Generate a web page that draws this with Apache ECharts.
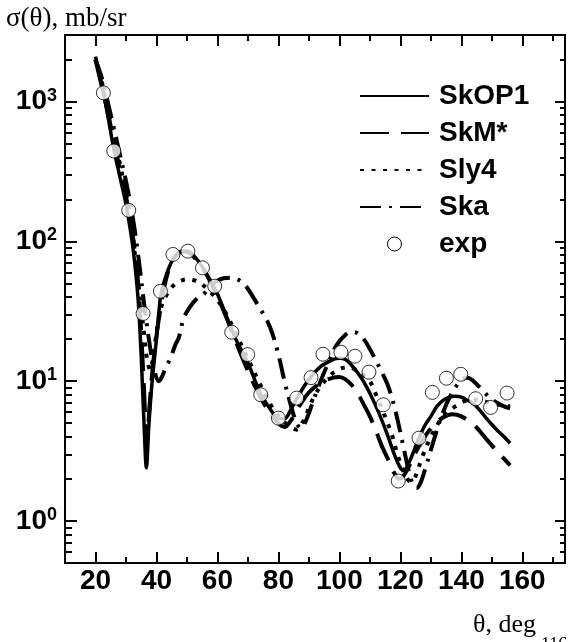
<!DOCTYPE html>
<html>
<head>
<meta charset="utf-8">
<script src="https://cdn.jsdelivr.net/npm/echarts@6/dist/echarts.min.js"></script>
<style>
html,body{margin:0;padding:0;background:#fff;}
#chart{width:569px;height:642px;}
</style>
</head>
<body>
<div id="chart"></div>
<script>
// ---- data ----
const skop1 = [[20,2100],[22,1350],[24,800],[26,460],[28,290],[30,185],[32,100],[33,66],[34,38],[35,15],[36,4.5],[36.7,2.4],[37.5,4.8],[38.5,9.5],[40,20],[41.3,40],[42,47],[44,64],[46,78],[48,84],[50,85],[52,80],[55,66],[58,51],[60,42],[63,29],[66,20],[70,13.5],[74,8.3],[78,6],[80,5.4],[82,5.4],[84,6.2],[86,7.5],[90,10.3],[94,12.8],[98,14.3],[100,14.6],[102,14.3],[104,13],[106,11.5],[108,9.9],[110,8.2],[112,6.6],[114,5.2],[116,4],[118,3],[120,2.4],[121,2.3],[122,2.4],[124,3],[126,3.9],[128,4.8],[130,5.6],[132,6.6],[134,7.3],[136,7.7],[138,7.8],[140,7.7],[142,7.3],[144,6.9],[146,6.2],[148,5.5],[150,4.9],[152,4.4],[154,4.0],[156,3.6]];
const skm = [[20,2000],[22,1300],[24,850],[26,520],[28,330],[30,210],[32,120],[34,50],[35,22],[36,8],[36.8,3.6],[37.8,7],[39,14],[41,30],[43,52],[45,71],[47,82],[49,85],[51,82],[53,74],[56,60],[59,45],[62,32],[65,22],[68,15],[72,9.5],[76,6.5],[80,5],[82,4.7],[84,5.2],[86,6.2],[90,8.3],[94,9.8],[98,10.6],[100,10.7],[102,10.3],[104,9.4],[106,8.2],[108,6.8],[110,5.6],[112,4.4],[114,3.4],[116,2.75],[118,2.2],[119.5,2.0],[121,2.1],[123,2.5],[126,3.4],[130,4.6],[134,5.5],[137,5.8],[140,5.6],[144,4.9],[148,3.9],[152,3.1],[156,2.5]];
const sly4 = [[20,2000],[22,1400],[24,900],[26,560],[28,360],[30,220],[32,120],[33,78],[34,50],[35,33],[36,21],[37,14],[38,12],[39,15.5],[40,22],[41,30],[42,36],[43.5,42],[45,47],[47,51],[50,53.5],[52,53],[54,51],[57,45],[60,38],[63,30],[66,22],[70,14.5],[74,9.5],[78,6.5],[82,5.1],[84,4.7],[86,4.5],[88,5.1],[90,6.4],[92,8],[96,10.5],[100,12.2],[103,12.6],[106,11.8],[108,11],[110,10],[112,8],[114,6.3],[116,4.9],[117,4.3],[118.5,3.3],[120,2.6],[122,2.05],[123.5,1.9],[125,2.1],[127,2.8],[130,4],[134,5.6],[138,6.6],[141,7.2],[144,7.4],[148,7.1],[152,6.8],[156,6.6]];
const ska = [[20,2000],[22,1500],[24,1000],[26,650],[28,420],[30,270],[32,160],[34,80],[36,35],[38,17],[39.5,11.5],[40.8,10],[42,11],[43,12.5],[44.6,14.6],[46.2,18.2],[47.3,20.4],[48.9,28],[51,34],[53.3,39],[55.5,42],[57.5,47],[59.8,52],[62,54.5],[65,55],[67,53],[69,49],[72,39],[74,33],[76,28],[78,22],[80,15.5],[82,10],[84,6.8],[86,5],[87.5,4.6],[89,5.2],[91,6.8],[93,9],[96,13],[99,18],[102,21.5],[104,22.5],[106,22],[108,20],[110,17],[112,14],[114,11.5],[116,9.2],[118,6.6],[120,4.3],[121,3.4],[122.5,2.4],[124,1.85],[125.3,1.72],[126.5,1.85],[128,2.3],[131,3.8],[134,6],[137,8.3],[140,10.2],[142,10.6],[144,10],[147,8.6],[150,7.4],[154,6.6],[156,6.4]];
const expX = [22.6,26,30.9,35.6,41.3,45.4,50.3,55.1,59.1,64.7,69.9,74.2,80,86,90.7,94.6,100.5,105.1,109.7,114.4,119.3,126.1,130.5,135.1,139.8,144.7,149.6,155];
const expY = [1157,444,167,30.5,44,80.7,85.2,64.7,47.8,22.4,15.5,8.0,5.44,7.57,10.6,15.6,16.1,15.1,11.6,6.78,1.93,3.91,8.31,10.5,11.2,7.49,6.49,8.22];
const xMajorTicks = [20,40,60,80,100,120,140,160];
const xMinorTicks = [30,50,70,90,110,130,150,170];
const yMajorTicks = [1,10,100,1000];
const yMinorTicks = [0.5,0.6,0.7,0.8,0.9,2,3,4,5,6,7,8,9,20,30,40,50,60,70,80,90,200,300,400,500,600,700,800,900,2000];
const seriesNames = ['SkOP1','SkM*','Sly4','Ska','exp'];
const yTitle = 'σ(θ), mb/sr';
const xTitle = 'θ, deg';
const pageNo = '116';

const chart = echarts.init(document.getElementById('chart'), null, {renderer:'canvas'});
const X_MIN = 10, X_MAX = 174, Y_MIN = 0.5, Y_MAX = 3000;
const SANS = 'Liberation Sans, Arial, sans-serif';
const SERIF = '"Liberation Serif", "Times New Roman", serif';
const axisLineStyle = {show:true, lineStyle:{color:'#000', width:2}};
function xAx(pos, ticks, len, labels){
  return {type:'value', position:pos, min:X_MIN, max:X_MAX,
    axisLine: axisLineStyle, splitLine:{show:false},
    axisTick:{show:true, inside:true, length:len, customValues:ticks, lineStyle:{color:'#000', width:2}},
    axisLabel: labels ? {show:true, customValues:xMajorTicks, margin:4, color:'#000', fontFamily:SANS, fontWeight:'bold', fontSize:28} : {show:false}
  };
}
function yAx(pos, ticks, len, labels){
  return {type:'log', logBase:10, position:pos, min:Y_MIN, max:Y_MAX,
    axisLine: axisLineStyle, splitLine:{show:false}, minorTick:{show:false},
    axisTick:{show:true, inside:true, length:len, customValues:ticks, lineStyle:{color:'#000', width:2}},
    axisLabel: labels ? {show:true, customValues:yMajorTicks, margin:8, color:'#000',
      formatter: v => '{b|10}{s|' + Math.round(Math.log10(v)) + '}',
      rich:{b:{fontFamily:SANS, fontWeight:'bold', fontSize:28, color:'#000'},
            s:{fontFamily:SANS, fontWeight:'bold', fontSize:18, color:'#000', verticalAlign:'top', padding:[0,0,12,0]}}} : {show:false}
  };
}
const lineBase = {type:'line', showSymbol:false, symbol:'none', smooth:0.35, xAxisIndex:0, yAxisIndex:0, z:2};
chart.setOption({
  animation:false,
  backgroundColor:'#fff',
  grid:{left:65, right:4, top:35, bottom:79, containLabel:false},
  xAxis:[xAx('bottom', xMajorTicks, 11, true), xAx('bottom', xMinorTicks, 6, false), xAx('top', xMajorTicks, 11, false), xAx('top', xMinorTicks, 6, false)],
  yAxis:[yAx('left', yMajorTicks, 12, true), yAx('left', yMinorTicks, 7, false), yAx('right', yMajorTicks, 10, false), yAx('right', yMinorTicks, 5, false)],
  legend:{orient:'vertical', left:354, top:77, itemWidth:69, itemHeight:14, itemGap:9,
    itemStyle:{opacity:0},
    textStyle:{fontFamily:SANS, fontWeight:'bold', fontSize:28, color:'#000', lineHeight:28, padding:[0,0,0,5]},
    data:seriesNames.map(n => n==='exp' ? {name:n, icon:'circle', itemStyle:{opacity:1, color:'#fff', borderColor:'#000', borderWidth:1}} : {name:n})},
  series:[
    Object.assign({}, lineBase, {name:seriesNames[0], data:skop1, lineStyle:{color:'#000', width:3.5, type:'solid'}, itemStyle:{color:'#000'}}),
    Object.assign({}, lineBase, {name:seriesNames[1], data:skm, lineStyle:{color:'#000', width:4, type:[29,12]}, itemStyle:{color:'#000'}}),
    Object.assign({}, lineBase, {name:seriesNames[2], data:sly4, lineStyle:{color:'#000', width:4, type:[4,7.5]}, itemStyle:{color:'#000'}}),
    Object.assign({}, lineBase, {name:seriesNames[3], data:ska, lineStyle:{color:'#000', width:4, type:[21,8,3,8]}, itemStyle:{color:'#000'}}),
    {type:'scatter', name:seriesNames[4], xAxisIndex:0, yAxisIndex:0, z:5, symbol:'circle', symbolSize:14,
      data: expX.map((x,i)=>[x, expY[i]]), itemStyle:{color:'#fff', borderColor:'#000', borderWidth:1}}
  ],
  graphic:[
    {type:'text', left:6, top:5, style:{text:yTitle, font:'27px ' + SERIF, fill:'#000'}},
    {type:'text', left:473, top:612, style:{text:xTitle, font:'26px ' + SERIF, fill:'#000'}},
    {type:'text', left:541, top:636, style:{text:pageNo, font:'18px ' + SERIF, fill:'#000'}}
  ]
});
</script>
</body>
</html>
